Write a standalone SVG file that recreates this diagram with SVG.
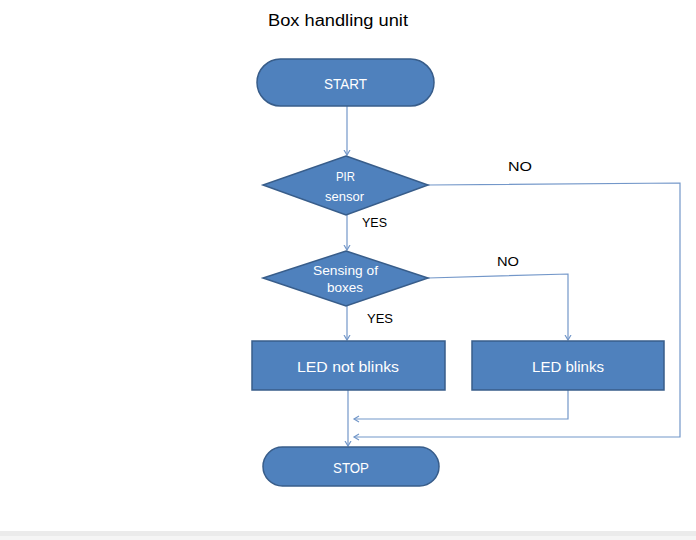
<svg xmlns="http://www.w3.org/2000/svg" width="696" height="540" viewBox="0 0 696 540">
<defs>
<style>
.node{fill:#4F81BD;stroke:#385D8A;stroke-width:1.5}
.nt{font-family:"Liberation Sans",Arial,sans-serif;fill:#ffffff;text-anchor:middle}
.lbl{font-family:"Liberation Sans",Arial,sans-serif;fill:#000000;font-size:13.5px}
.conn{fill:none;stroke:#7397C9;stroke-width:1.2}
</style>
<marker id="arr" markerWidth="8" markerHeight="8" refX="5.5" refY="3.5" orient="auto" markerUnits="userSpaceOnUse">
<path d="M0.5,0.5 L5.5,3.5 L0.5,6.5" fill="none" stroke="#7397C9" stroke-width="1.2"/>
</marker>
</defs>
<rect x="0" y="0" width="696" height="540" fill="#ffffff"/>
<rect x="0" y="531" width="696" height="9" fill="#ebebeb"/>
<rect x="0" y="536" width="696" height="4" fill="#f5f5f5"/>
<text x="338" y="26" font-family="Liberation Sans,Arial,sans-serif" font-size="16" textLength="140" lengthAdjust="spacingAndGlyphs" text-anchor="middle" fill="#000">Box handling unit</text>

<g id="connectors">
<path class="conn" d="M347,106 L347,155" marker-end="url(#arr)"/>
<path class="conn" d="M347,215 L347,250" marker-end="url(#arr)"/>
<path class="conn" d="M347,306 L347,340" marker-end="url(#arr)"/>
<path class="conn" d="M428,185 L680,183 L680,437 L354,437" marker-end="url(#arr)"/>
<path class="conn" d="M428,278 L568,274 L568,340" marker-end="url(#arr)"/>
<path class="conn" d="M348,390 L348,446" marker-end="url(#arr)"/>
<path class="conn" d="M568,390 L568,419 L354,419" marker-end="url(#arr)"/>
</g>

<g id="start">
<rect class="node" x="257" y="59" width="177" height="47" rx="23.5"/>
<text class="nt" x="345.5" y="89" font-size="15" textLength="43" lengthAdjust="spacingAndGlyphs">START</text>
</g>
<g id="pir">
<polygon class="node" points="346,156 428,185 346,215 263,185"/>
<text class="nt" x="345.5" y="181" font-size="13.5" textLength="19" lengthAdjust="spacingAndGlyphs">PIR</text>
<text class="nt" x="344.5" y="200.5" font-size="13.5" textLength="39" lengthAdjust="spacingAndGlyphs">sensor</text>
</g>
<g id="sensing">
<polygon class="node" points="346,251 428,278 346,306 263,278"/>
<text class="nt" x="345.5" y="275" font-size="13.5" textLength="65" lengthAdjust="spacingAndGlyphs">Sensing of</text>
<text class="nt" x="345" y="292" font-size="13.5" textLength="36" lengthAdjust="spacingAndGlyphs">boxes</text>
</g>
<g id="led-not-blinks">
<rect class="node" x="252" y="341" width="193" height="49"/>
<text class="nt" x="348" y="372" font-size="15" textLength="102" lengthAdjust="spacingAndGlyphs">LED not blinks</text>
</g>
<g id="led-blinks">
<rect class="node" x="472" y="341" width="192" height="49"/>
<text class="nt" x="568" y="372" font-size="15" textLength="72" lengthAdjust="spacingAndGlyphs">LED blinks</text>
</g>
<g id="stop">
<rect class="node" x="263" y="447" width="176" height="39" rx="19.5"/>
<text class="nt" x="351" y="473" font-size="15" textLength="36" lengthAdjust="spacingAndGlyphs">STOP</text>
</g>

<g id="labels">
<text class="lbl" x="362" y="227" textLength="25" lengthAdjust="spacingAndGlyphs">YES</text>
<text class="lbl" x="367" y="323" textLength="26" lengthAdjust="spacingAndGlyphs">YES</text>
<text class="lbl" x="508" y="171" textLength="24" lengthAdjust="spacingAndGlyphs">NO</text>
<text class="lbl" x="497" y="266" textLength="22" lengthAdjust="spacingAndGlyphs">NO</text>
</g>
</svg>
